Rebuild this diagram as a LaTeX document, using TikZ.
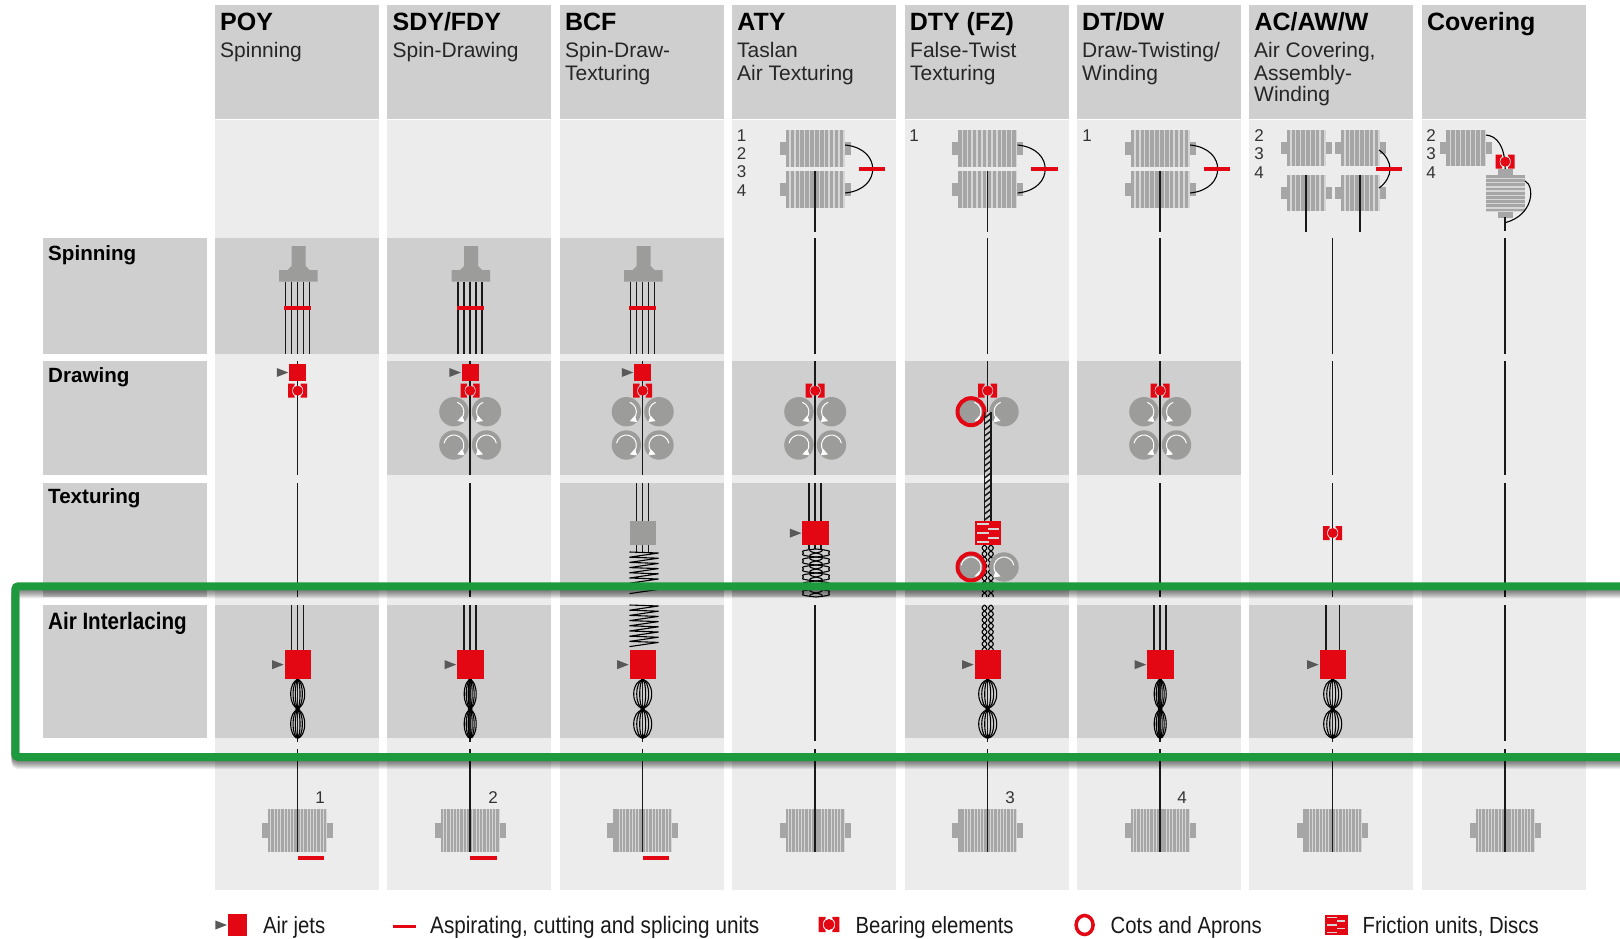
\documentclass[tikz,border=0pt]{standalone}
\usepackage{fontspec}
\setmainfont{Liberation Sans}
\usetikzlibrary{calc,arrows.meta}
\newcommand{\figureunit}{1pt}
\definecolor{paneldark}{HTML}{CFCFCF}
\definecolor{panellight}{HTML}{ECECEC}
\definecolor{unitgray}{HTML}{9C9C9A}
\definecolor{stripedark}{HTML}{A6A6A6}
\definecolor{stripegray}{HTML}{D6D6D6}
\definecolor{unitred}{HTML}{E30613}
\definecolor{framegreen}{HTML}{1E9A3E}
\tikzset{
	yarn/.style={line width=1.5pt,black!90},
	fineyarn/.style={line width=1.1pt,black},
	redbar/.style={draw=unitred,line width=3.8pt},
	headtext/.style={anchor=base west,inner sep=0pt,font=\fontsize{25}{26}\selectfont\bfseries},
	subtext/.style={anchor=base west,inner sep=0pt,font=\fontsize{21}{22}\selectfont,text=black!85},
	rowtext/.style={anchor=base west,inner sep=0pt,font=\fontsize{20.6}{22}\selectfont\bfseries},
	numtext/.style={anchor=center,inner sep=0pt,font=\fontsize{17}{18}\selectfont,text=black!80},
	legendtext/.style={anchor=base west,inner sep=0pt,font=\fontsize{20.3}{22}\selectfont,yscale=1.15,transform shape,text=black!90}
}
\newcommand{\makebobbin}[5]{
	\begin{scope}[shift={(#1,#2)}]
	\fill[stripedark] ({-#3/2-6},{#4*0.32}) rectangle ({#3/2+6},{#4*0.68});
	\fill[stripegray] ({-#3/2},0) rectangle ({#3/2},#4);
	\foreach \s in {1,...,#5}
		\fill[stripedark] ({-#3/2+(\s-1)*#3/#5},0) rectangle ({-#3/2+(\s-0.3)*#3/#5},#4);
	\end{scope}
}
\newcommand{\makejet}[4]{
	\begin{scope}[shift={(#1,#2)}]
	\fill[black!65] ({-#3/2-12.5},{#4/2-4.5}) -- ({-#3/2-1},{#4/2}) -- ({-#3/2-12.5},{#4/2+4.5}) -- cycle;
	\fill[unitred] ({-#3/2},0) rectangle ({#3/2},#4);
	\end{scope}
}
\newcommand{\makebearing}[3]{
	\begin{scope}[shift={(#1,#2)},scale=#3]
	\foreach \side in {-1,1}
		\fill[unitred] ({\side*9.5},-7) -- ({\side*3},-7) -- ({\side*3},-5.5)
			.. controls ({\side*6.5},-3.5) and ({\side*6.5},3.5) .. ({\side*3},5.5)
			-- ({\side*3},7) -- ({\side*9.5},7) -- cycle;
	\fill[unitred] (0,0) circle (5);
	\end{scope}
}
\newcommand{\makeroller}[4]{
	\fill[unitgray] (#1,#2) circle (14.7);
	\draw[white,line width=1pt,-{Triangle[width=6.5pt,length=6.5pt]}] ($(#1,#2)+(#3:10)$) arc (#3:#4:10);
}
\newcommand{\makefriction}[3]{
	\begin{scope}[shift={(#1,#2)},scale=#3]
	\fill[unitred] (-13,0) rectangle (13,24.3);
	\foreach \a/\b/\h in {-11/0.5/3.3,0/10.5/7.7,-11/0.5/12.3,0/10.5/16.7,-11/0.5/21}
		\fill[stripegray] (\a,{\h-0.9}) rectangle (\b,{\h+0.9});
	\end{scope}
}
\newcommand{\makeinterlace}[2]{
	\begin{scope}[shift={(#1,0)}]
	\draw[yarn] (0,679) -- (0,742);
	\fill[black] (-2,679) -- (2,679) -- (0,683) -- cycle;
	\fill[black] (-2.5,709) -- (0,705) -- (2.5,709) -- (0,713) -- cycle;
	\fill[black] (-2.5,738) -- (0,733) -- (2.5,738) -- cycle;
	\foreach \yy in {694,724}
		\foreach \rr in {1,0.66,0.33}
			\draw[fineyarn] (0,\yy) ellipse ({#2*\rr} and 14);
	\end{scope}
}
\newcommand{\makethree}[3]{
	\foreach \dx in {-6,0,6}
		\draw[yarn] ({#1+\dx},#2) -- ({#1+\dx},#3);
}
\newcommand{\makecoil}[3]{
	\draw[fineyarn,line join=bevel] ({#1-14.5},#2)
		\foreach \k in {1,...,#3} { -- ({#1+14.5},{#2+(\k-0.5)*5.2-1.6}) -- ({#1-14.5},{#2+\k*5.2}) };
}
\newcommand{\makebraid}[3]{
	\foreach \cc/\ph in {-3.2/0,3.2/180}
		\foreach \sg in {-1,1}
			\draw[fineyarn] plot[smooth,samples=40,domain=#2:#3] ({#1+\cc+\sg*2.4*sin((\x-#2)*30+\ph)},\x);
}
\newcommand{\makeloops}[3]{
	\foreach \amp/\ph in {15.5/0,-15.5/0,7/90,-7/90}
		\draw[fineyarn] plot[smooth,samples=90,domain=#2:#3] ({#1+\amp*(sin((\x-#2)*22.5+\ph)+0.18*sin(3*((\x-#2)*22.5+\ph)))},\x);
}
\begin{document}
\begin{tikzpicture}[x=\figureunit,y=-\figureunit]
	\useasboundingbox (0,0) rectangle (1620,939);
	\fill[white] (0,0) rectangle (1620,939);

	\foreach \col in {1,...,8} {
		\fill[paneldark] ({215+172.4*(\col-1)},5.3) rectangle ({379+172.4*(\col-1)},119.3);
		\fill[panellight] ({215+172.4*(\col-1)},120) rectangle ({379+172.4*(\col-1)},889.5);
	}
	\foreach \col/\top/\bot in {1/238/353.5,2/238/353.5,3/238/353.5,
		2/361/475,3/361/475,4/361/475,5/361/475,6/361/475,
		3/483/597,4/483/597,5/483/597,
		1/605/738,2/605/738,3/605/738,5/605/738,6/605/738,7/605/738}
		\fill[paneldark] ({215+172.4*(\col-1)},\top) rectangle ({379+172.4*(\col-1)},\bot);
	\foreach \top/\bot in {238/353.5,361/475,483/597,605/738}
		\fill[paneldark] (42.7,\top) rectangle (206.7,\bot);

	\foreach \col/\head in {1/POY,2/{SDY/FDY},3/BCF,4/ATY,5/{DTY (FZ)},6/{DT/DW},7/{AC/AW/W},8/Covering}
		\node[headtext] (head\col) at ({220+172.4*(\col-1)},31) {\head};
	\node[subtext] (subA) at (220,58) {Spinning};
	\node[subtext] (subB) at (392.4,58) {Spin-Drawing};
	\node[subtext] (subC) at (565,58) {Spin-Draw-};
	\node[subtext] (subCb) at (565,80.5) {Texturing};
	\node[subtext] (subD) at (737,58) {Taslan};
	\node[subtext] (subDb) at (737,80.5) {Air Texturing};
	\node[subtext] (subE) at (910,58) {False-Twist};
	\node[subtext] (subEb) at (910,80.5) {Texturing};
	\node[subtext] (subF) at (1082,58) {Draw-Twisting/};
	\node[subtext] (subFb) at (1082,80.5) {Winding};
	\node[subtext] (subG) at (1254,58) {Air Covering,};
	\node[subtext] (subGb) at (1254,80.5) {Assembly-};
	\node[subtext] (subGc) at (1254,102) {Winding};

	\node[rowtext] (rowspin) at (48,260) {Spinning};
	\node[rowtext] (rowdraw) at (48,382) {Drawing};
	\node[rowtext] (rowtex) at (48,503) {Texturing};
	\node[rowtext,yscale=1.15,transform shape] (rowair) at (48,629) {Air Interlacing};

	% top creels
	\foreach \xx in {815.2,987.7,1160.2} {
		\makebobbin{\xx}{130}{59}{37}{12}
		\makebobbin{\xx}{171}{59}{37}{12}
		\draw[fineyarn] ({\xx+30},145) .. controls ({\xx+49},147) and ({\xx+57.5},158) .. ({\xx+57.5},169)
			.. controls ({\xx+57.5},180) and ({\xx+49},191) .. ({\xx+30},193);
		\draw[redbar] ({\xx+43.5},169) -- ({\xx+70},169);
		\draw[yarn] (\xx,171) -- (\xx,232);
	}
	\foreach \n/\yy in {1/136,2/154,3/172,4/191}
		\node[numtext] (atynum\n) at (741.7,\yy) {\n};
	\node[numtext] (dtynum) at (914,136) {1};
	\node[numtext] (dtwnum) at (1087,136) {1};
	\foreach \n/\yy in {2/136,3/154,4/172.5} {
		\node[numtext] (acnum\n) at (1259,\yy) {\n};
		\node[numtext] (covnum\n) at (1431,\yy) {\n};
	}

	\foreach \xx in {1306.2,1360.2} {
		\makebobbin{\xx}{130}{39}{36}{8}
		\makebobbin{\xx}{175}{39}{36}{8}
		\draw[yarn] (\xx,175) -- (\xx,232);
	}
	\draw[fineyarn] (1379,150) .. controls (1386,155) and (1390,162) .. (1390,169) .. controls (1390,176) and (1386,183) .. (1379,188);
	\draw[redbar] (1376,169) -- (1402,169);

	\makebobbin{1466}{130}{40}{36}{8}
	\fill[stripedark] (1498,169) rectangle (1513,218);
	\fill[stripegray] (1486,175) rectangle (1525,212);
	\foreach \s in {0,...,8}
		\fill[stripedark] (1486,{175+\s*4.2}) rectangle (1525,{175+\s*4.2+2.8});
	\draw[fineyarn] (1486,135) .. controls (1497,136) and (1505,146) .. (1505.2,169);
	\draw[fineyarn] (1525,181) .. controls (1535,186) and (1534,215) .. (1505.2,222.7);
	\draw[yarn] (1505.2,217) -- (1505.2,231);
	\makebearing{1505.2}{161.7}{1}

	% spinning
	\foreach \xx in {297.7,470.2,642.7} {
		\fill[unitgray] ({\xx-6},246) -- ({\xx+8},246) -- ({\xx+8},266) -- ({\xx+12},270) -- ({\xx+20},270)
			-- ({\xx+20},281.7) -- ({\xx-18.7},281.7) -- ({\xx-18.7},270) -- ({\xx-10},270) -- ({\xx-6},266) -- cycle;
		\foreach \dx in {-12,-6,0,5.7,11.7}
			\draw[yarn] ({\xx+\dx},281.7) -- ({\xx+\dx},353.5);
		\draw[redbar] ({\xx-13.4},307.7) -- ({\xx+13.3},307.7);
	}
	\foreach \xx in {815.2,987.7,1160.2,1332.7,1505.2}
		\draw[yarn] (\xx,238) -- (\xx,354);

	% drawing
	\foreach \xx in {297.7,470.2,642.7,815.2,1160.2,1332.7,1505.2}
		\draw[yarn] (\xx,361) -- (\xx,475);
	\draw[yarn] (987.7,361) -- (987.7,412);
	\foreach \xx in {470.2,642.7,815.2,1160.2} {
		\makeroller{\xx-16.3}{411.7}{-70}{70}
		\makeroller{\xx+16.3}{411.7}{-110}{-250}
		\makeroller{\xx-16.3}{445}{-170}{70}
		\makeroller{\xx+16.3}{445}{-10}{-250}
		\draw[yarn] (\xx,361) -- (\xx,475);
	}
	\foreach \xx in {297.7,470.2,642.7} {
		\makejet{\xx+0.1}{364}{17}{17}
		\makebearing{\xx}{390.7}{1}
	}
	\foreach \xx in {815.2,987.7,1160.2} {
		\makebearing{\xx}{390.7}{1}
	}

	\makeroller{971}{411.7}{-70}{70}
	\makeroller{1004}{411.7}{-110}{-250}
	\draw[unitred,line width=4pt] (971,411.7) circle (13.5);
	\draw[yarn] (984.5,412) -- (984.5,521);
	\draw[yarn] (990.9,412) -- (990.9,521);
	\foreach \s in {0,...,17}
		\draw[yarn] (984.5,{418+\s*6}) -- (990.9,{413+\s*6});

	% texturing
	\foreach \xx in {297.7,470.2,1160.2,1332.7,1505.2}
		\draw[yarn] (\xx,483) -- (\xx,597);
	\makethree{642.7}{483}{521}
	\makethree{642.7}{545}{552}
	\fill[unitgray] (629.7,521) rectangle (656.3,545.3);
	\makecoil{644}{552}{8}
	\makecoil{644}{605}{8}
	\makethree{815.2}{483}{521}
	\makethree{815.2}{545}{549}
	\makeloops{816}{549}{597}
	\makejet{815.7}{521}{26.6}{24.3}
	\makebraid{987.7}{545}{597}
	\makebraid{987.7}{605}{650}
	\makeroller{971}{567}{-170}{70}
	\makeroller{1004}{567}{-10}{-250}
	\draw[unitred,line width=4pt] (971,567) circle (13.5);
	\makefriction{988.3}{521}{1}
	\makebearing{1332.7}{533}{1}

	% air interlacing
	\foreach \xx in {297.7,470.2,1160.2} {
		\makethree{\xx}{605}{650}
	}
	\draw[yarn] (1326,605) -- (1326,650);
	\draw[yarn] (1339.4,605) -- (1339.4,650);
	\foreach \xx/\rx in {297.7/7,470.2/6,642.7/9,987.7/9,1160.2/6,1332.7/9} {
		\makejet{\xx+0.3}{650.3}{26.6}{28.7}
		\makeinterlace{\xx}{\rx}
	}
	\draw[yarn] (815.2,605) -- (815.2,741);
	\draw[yarn] (1505.2,605) -- (1505.2,741);

	% take-up
	\foreach \xx in {297.7,470.2,642.7,815.2,987.7,1160.2,1332.7,1505.2} {
		\makebobbin{\xx}{809}{59}{43}{18}
		\draw[yarn] (\xx,749) -- (\xx,852);
	}
	\foreach \xx in {297.7,470.2,642.7}
		\draw[redbar] (\xx,858) -- ({\xx+26.5},858);
	\node[numtext] (takeA) at (320,798) {1};
	\node[numtext] (takeB) at (493,798) {2};
	\node[numtext] (takeC) at (1010,798) {3};
	\node[numtext] (takeD) at (1182,798) {4};

	% frame
	\foreach \s in {1,...,8}
		\draw[black,opacity=0.07,line width=8pt,rounded corners=3pt] (1620,{586.3+\s}) -- (15.3,{586.3+\s}) -- (15.3,{757+\s}) -- (1620,{757+\s});
	\draw[framegreen,line width=8pt,rounded corners=3pt] (1620,586.3) -- (15.3,586.3) -- (15.3,757) -- (1620,757);

	% legend
	\makejet{237.7}{914}{19.5}{22}
	\draw[unitred,line width=3pt] (393,926) -- (416,926);
	\makebearing{829}{924.5}{1.1}
	\draw[unitred,line width=3.5pt] (1084.6,925) ellipse (8.5 and 9.5);
	\makefriction{1336.5}{914.5}{0.85}
	\node[legendtext] (legA) at (263,933) {Air jets};
	\node[legendtext,font=\fontsize{20.7}{22}\selectfont] (legB) at (430,933) {Aspirating, cutting and splicing units};
	\node[legendtext] (legC) at (855.5,933) {Bearing elements};
	\node[legendtext] (legD) at (1110.5,933) {Cots and Aprons};
	\node[legendtext] (legE) at (1362.5,933) {Friction units, Discs};
\end{tikzpicture}
\end{document}
